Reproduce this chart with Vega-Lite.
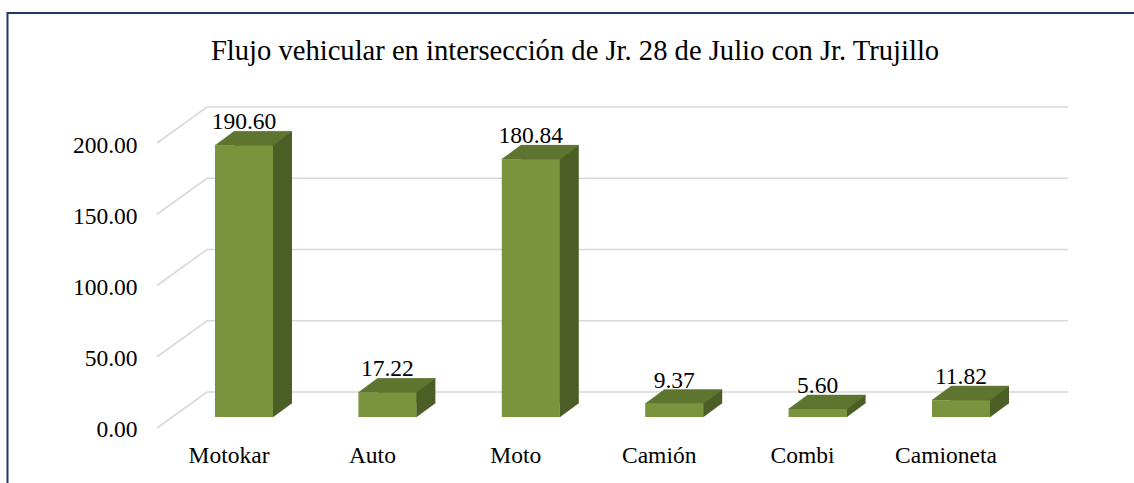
{
  "$schema": "https://vega.github.io/schema/vega-lite/v6.json",
  "autosize": {"type": "none"},
  "padding": {"left": 7.5, "top": 13, "right": 0, "bottom": 0},
  "width": 1132,
  "height": 477,
  "background": "white",
  "view": {"stroke": "#1F3864", "strokeWidth": 2, "fill": "white"},
  "config": {
    "font": "Liberation Serif",
    "text": {"font": "Liberation Serif"},
    "mark": {"font": "Liberation Serif"}
  },
  "title": {
    "text": "Flujo vehicular en intersección de Jr. 28 de Julio con Jr. Trujillo",
    "font": "Liberation Serif",
    "fontSize": 28.6,
    "fontWeight": "normal",
    "color": "#000000",
    "anchor": "middle",
    "baseline": "alphabetic",
    "offset": 0,
    "dy": 76,
    "dx": 1.5
  },
  "datasets": {
    "bars": [
      {"cat": "Motokar", "value": 190.60},
      {"cat": "Auto", "value": 17.22},
      {"cat": "Moto", "value": 180.84},
      {"cat": "Camión", "value": 9.37},
      {"cat": "Combi", "value": 5.60},
      {"cat": "Camioneta", "value": 11.82}
    ],
    "grid": [
      {"value": 0}, {"value": 50}, {"value": 100}, {"value": 150}, {"value": 200}
    ]
  },
  "layer": [
    {
      "data": {"name": "grid"},
      "mark": {"type": "point", "shape": "M-416.5,11 L-366.5,-25 L494.5,-25", "size": 4, "filled": false, "stroke": "#D9D9D9", "strokeWidth": 1.6, "opacity": 1},
      "encoding": {
        "y": {
          "field": "value", "type": "quantitative",
          "scale": {"domain": [-51.23, 283.51], "nice": false, "zero": false},
          "axis": {
            "values": [0, 50, 100, 150, 200],
            "format": ".2f",
            "title": null,
            "domain": false,
            "ticks": false,
            "tickSize": 0,
            "grid": false,
            "offset": -149.5,
            "labelPadding": 20,
            "labelOffset": 13,
            "labelFont": "Liberation Serif",
            "labelFontSize": 23.5,
            "labelColor": "#000000",
            "labelBaseline": "middle"
          }
        }
      }
    },
    {
      "data": {"name": "bars"},
      "mark": {"type": "bar", "color": "#4B5E26", "width": 58, "xOffset": 19, "yOffset": -14, "y2Offset": -14},
      "encoding": {
        "x": {"field": "cat", "type": "nominal", "axis": null,
              "scale": {"type": "band", "domain": ["Motokar", "Auto", "Moto", "Camión", "Combi", "Camioneta"], "paddingInner": 0.106, "paddingOuter": 1, "align": 0.6011}},
        "y": {"field": "value", "type": "quantitative", "axis": {"title": null}},
        "y2": {"datum": 0}
      }
    },
    {
      "data": {"name": "bars"},
      "mark": {"type": "point", "shape": "M29,0 L29,-14 L48,-14 Z", "size": 4, "filled": true, "color": "#4B5E26", "stroke": "#4B5E26", "strokeWidth": 0.5, "opacity": 1},
      "encoding": {
        "x": {"field": "cat", "type": "nominal", "axis": null},
        "y": {"datum": 0, "type": "quantitative"}
      }
    },
    {
      "data": {"name": "bars"},
      "mark": {"type": "point", "shape": "M-29,0 L29,0 L48,-14 L-10,-14 Z", "size": 4, "filled": true, "color": "#5D752F", "stroke": "#5D752F", "strokeWidth": 0.5, "opacity": 1},
      "encoding": {
        "x": {"field": "cat", "type": "nominal", "axis": null},
        "y": {"field": "value", "type": "quantitative"}
      }
    },
    {
      "data": {"name": "bars"},
      "mark": {"type": "bar", "color": "#79943C", "width": 58},
      "encoding": {
        "x": {"field": "cat", "type": "nominal", "axis": null},
        "y": {"field": "value", "type": "quantitative"},
        "y2": {"datum": 0}
      }
    },
    {
      "data": {"name": "bars"},
      "mark": {"type": "text", "font": "Liberation Serif", "fontSize": 23.5, "color": "#000000", "align": "center", "baseline": "alphabetic", "dy": -16},
      "encoding": {
        "x": {"field": "cat", "type": "nominal", "axis": null},
        "y": {"field": "value", "type": "quantitative"},
        "text": {"field": "value", "type": "quantitative", "format": ".2f"}
      }
    },
    {
      "data": {"name": "bars"},
      "mark": {"type": "text", "font": "Liberation Serif", "fontSize": 23.5, "color": "#000000", "align": "center", "baseline": "alphabetic", "dy": 46, "dx": -15},
      "encoding": {
        "x": {"field": "cat", "type": "nominal", "axis": null},
        "y": {"datum": 0, "type": "quantitative"},
        "text": {"field": "cat", "type": "nominal"}
      }
    }
  ]
}
